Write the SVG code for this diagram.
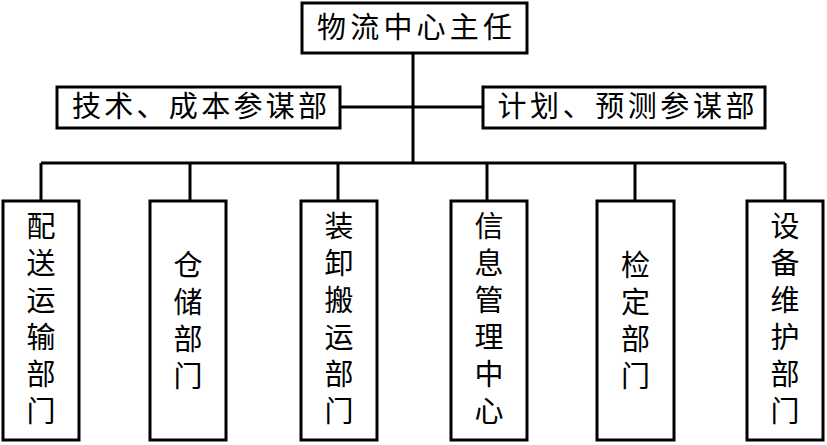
<svg xmlns="http://www.w3.org/2000/svg" width="827" height="445" viewBox="0 0 827 445">
<style>
.box{fill:#fff;stroke:#000;stroke-width:3}
.ln{fill:none;stroke:#000;stroke-width:3}
.t{font-family:"Liberation Serif","Noto Sans CJK SC","Noto Sans CJK JP",serif;font-size:29px;fill:#000;text-anchor:middle;dominant-baseline:central}
</style>
<rect width="827" height="445" fill="#fff"/>
<g id="connectors">
<path class="ln" d="M413 53V163M340 107H483M41 163H785M41 163V201M190 163V201M338 163V201M487 163V201M635 163V201M785 163V201"/>
</g>
<g id="n-top"><rect class="box" x="302" y="3" width="225" height="50"/><text class="t" x="414.5" y="28" textLength="195" lengthAdjust="spacing">物流中心主任</text></g>
<g id="n-left"><rect class="box" x="57" y="87" width="283" height="41"/><text class="t" x="199.5" y="107" textLength="255" lengthAdjust="spacing">技术、成本参谋部</text></g>
<g id="n-right"><rect class="box" x="483" y="87" width="282" height="41"/><text class="t" x="626" y="107" textLength="257" lengthAdjust="spacing">计划、预测参谋部</text></g>
<g id="n1"><rect class="box" x="3" y="201" width="76" height="239"/><text class="t" x="41"><tspan x="41" y="227">配</tspan><tspan x="41" y="264">送</tspan><tspan x="41" y="301">运</tspan><tspan x="41" y="338">输</tspan><tspan x="41" y="375">部</tspan><tspan x="41" y="412">门</tspan></text></g>
<g id="n2"><rect class="box" x="150" y="201" width="76" height="239"/><text class="t"><tspan x="188" y="266">仓</tspan><tspan x="188" y="303">储</tspan><tspan x="188" y="340">部</tspan><tspan x="188" y="377">门</tspan></text></g>
<g id="n3"><rect class="box" x="301" y="201" width="76" height="239"/><text class="t"><tspan x="339" y="227">装</tspan><tspan x="339" y="264">卸</tspan><tspan x="339" y="301">搬</tspan><tspan x="339" y="338">运</tspan><tspan x="339" y="375">部</tspan><tspan x="339" y="412">门</tspan></text></g>
<g id="n4"><rect class="box" x="451" y="201" width="76" height="239"/><text class="t"><tspan x="489" y="227">信</tspan><tspan x="489" y="264">息</tspan><tspan x="489" y="301">管</tspan><tspan x="489" y="338">理</tspan><tspan x="489" y="375">中</tspan><tspan x="489" y="412">心</tspan></text></g>
<g id="n5"><rect class="box" x="597" y="201" width="77" height="239"/><text class="t"><tspan x="635.5" y="266">检</tspan><tspan x="635.5" y="303">定</tspan><tspan x="635.5" y="340">部</tspan><tspan x="635.5" y="377">门</tspan></text></g>
<g id="n6"><rect class="box" x="747" y="201" width="76" height="239"/><text class="t"><tspan x="785" y="227">设</tspan><tspan x="785" y="264">备</tspan><tspan x="785" y="301">维</tspan><tspan x="785" y="338">护</tspan><tspan x="785" y="375">部</tspan><tspan x="785" y="412">门</tspan></text></g>
</svg>
